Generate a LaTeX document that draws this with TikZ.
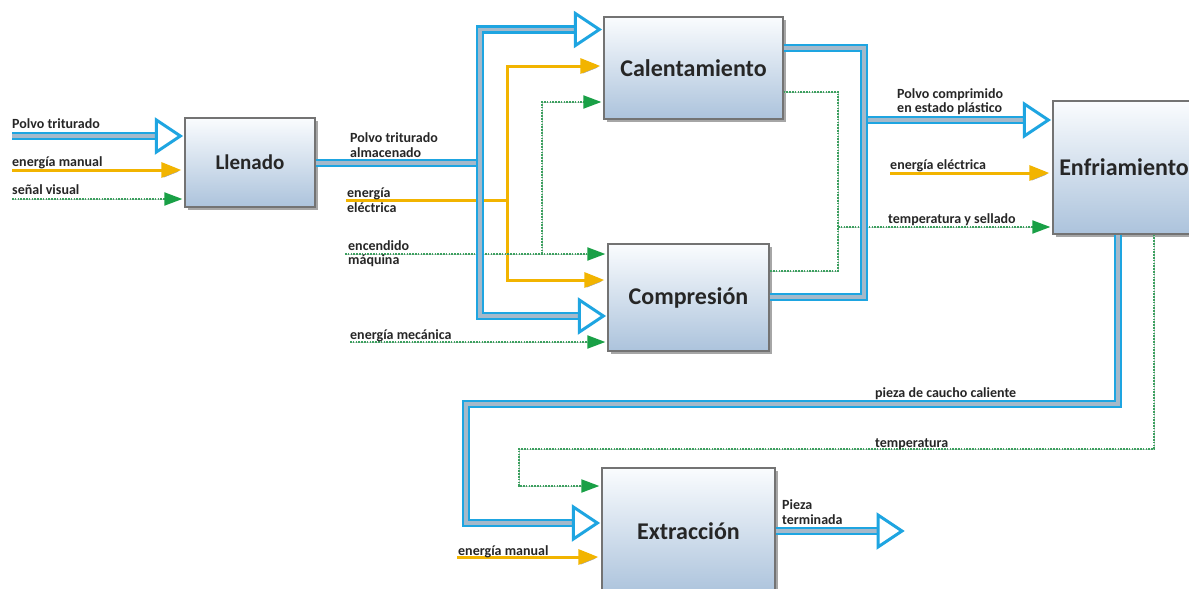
\documentclass[tikz,border=0pt]{standalone}
\usepackage{fontspec}
\setmainfont{Carlito}
\usetikzlibrary{arrows.meta,calc,shadows}
\definecolor{cblue}{RGB}{30,165,225}
\definecolor{cmid}{RGB}{165,185,202}
\definecolor{cyel}{RGB}{242,180,0}
\definecolor{cgrn}{RGB}{60,160,95}
\definecolor{cgrnbase}{RGB}{190,205,198}
\definecolor{cgrnhead}{RGB}{25,160,70}
\definecolor{boxtop}{RGB}{250,252,254}
\definecolor{boxbot}{RGB}{172,195,220}
\definecolor{boxline}{RGB}{115,115,115}
\definecolor{ink}{RGB}{38,38,38}

\begin{document}
\begin{tikzpicture}[x=1pt,y=-1pt,
  proc/.style={draw=boxline, line width=1.3pt, top color=boxtop, bottom color=boxbot,
    drop shadow={shadow xshift=3pt,shadow yshift=-3pt,fill=black,opacity=.35},
    text=ink, font=\bfseries\fontsize{24}{28}\selectfont, inner sep=0pt},
  lbl/.style={anchor=base west, inner sep=0pt, text=ink, font=\bfseries\fontsize{14}{16}\selectfont},
  pipe/.style={draw=cblue, line width=2.6pt, double=cmid, double distance=3.4pt},
  bhead/.pic={\draw[cblue, line width=3pt, fill=white, line join=miter] (0,0) -- (-24,-16) -- (-24,16) -- cycle;},
  power/.style={draw=cyel, line width=3pt, shorten >=3pt, -{Triangle[length=20pt,width=15pt]},
    preaction={draw=black!35, transform canvas={shift={(1pt,-1.5pt)}}}},
  powerline/.style={draw=cyel, line width=3pt,
    preaction={draw=black!35, transform canvas={shift={(1pt,-1.5pt)}}}},
  signal/.style={draw=cgrn, line width=2pt, dash pattern=on 1.6pt off 1.2pt, shorten >=2pt,
    preaction={draw=cgrnbase, solid},
    -{Triangle[length=18pt,width=13pt,color=cgrnhead]}},
  signalline/.style={draw=cgrn, line width=2pt, dash pattern=on 1.6pt off 1.2pt,
    preaction={draw=cgrnbase, solid}}
]
\clip (0,0) rectangle (1189,589);
\fill[white] (0,0) rectangle (1189,589);

% process boxes
\node[proc, minimum width=130pt, minimum height=89pt, font=\bfseries\fontsize{21}{25}\selectfont] (llen) at (250,162.5) {Llenado};
\node[proc, minimum width=179pt, minimum height=102pt] (cal) at (693.5,68) {Calentamiento};
\node[proc, minimum width=161pt, minimum height=107pt] (comp) at (688.5,297.5) {Compresión};
\node[proc, minimum width=142pt, minimum height=133pt] (enf) at (1124,167.5) {Enfriamiento};
\node[proc, minimum width=173pt, minimum height=126pt] (ext) at (688.5,531) {Extracción};

% free ends and junctions
\coordinate (inP) at (12,136);
\coordinate (inE) at (12,170);
\coordinate (inS) at (12,199);
\coordinate (elec) at (346,200);
\coordinate (encm) at (345,254);
\coordinate (mec) at (350,342);
\coordinate (elec2) at (890,173);
\coordinate (man2) at (457,557);
\coordinate (tout) at (902,531);
\coordinate (jA) at (480,163);
\coordinate (jB) at (864,120);
\coordinate (jY) at (507,200);
\coordinate (jG) at (542,254);
\coordinate (jT) at (838,227);

% tips of the open blue heads
\coordinate (tL) at ($(llen.west|-0,136)+(-4,0)$);
\coordinate (tC) at ($(cal.west|-0,29.5)+(-4,0)$);
\coordinate (tP) at ($(comp.west|-0,316)+(-4,0)$);
\coordinate (tE) at ($(enf.west|-0,120)+(-4,0)$);
\coordinate (tX) at ($(ext.west|-0,523)+(-4,0)$);

% ---- energy flows (yellow)
\draw[power] (inE) -- (llen.west|-inE);
\draw[powerline] (elec) -- (jY);
\draw[power] (jY) |- (cal.west|-0,66);
\draw[power] (jY) |- (comp.west|-0,280);
\draw[power] (elec2) -- (enf.west|-elec2);
\draw[power] (man2) -- (ext.west|-man2);

% ---- signal flows (green)
\draw[signal] (inS) -- (llen.west|-inS);
\draw[signal] (encm) -- (comp.west|-encm);
\draw[signal] (jG) |- (cal.west|-0,102);
\draw[signal] (mec) -- (comp.west|-mec);
\draw[signalline] (cal.east|-0,92) -| (838,271) -- (comp.east|-0,271);
\draw[signal] (jT) -- (enf.west|-jT);
\draw[signal] (1154,0|-enf.south) |- (519,449) |- (ext.west|-0,486);

% ---- material flows (blue double pipes)
\draw[pipe, shorten >=22pt] (inP) -- (tL);
\draw[pipe] (llen.east|-jA) -- (jA);
\draw[pipe, shorten >=22pt] (jA) |- (tC);
\draw[pipe, shorten >=22pt] (jA) |- (tP);
\draw[pipe, shorten >=22pt] (jB) -- (tE);
\draw[pipe] (cal.east|-0,48) -| (jB);
\draw[pipe] (comp.east|-0,297) -| (jB);
\draw[pipe, shorten >=22pt] (1118,0|-enf.south) |- (466,404) |- (tX);
\draw[pipe, shorten >=22pt] (ext.east|-tout) -- (tout);
\foreach \t in {tL,tC,tP,tE,tX,tout} \pic at (\t) {bhead};

% ---- labels
\node[lbl] at (12,128) {Polvo triturado};
\node[lbl] at (12,166) {energía manual};
\node[lbl] at (12,194) {señal visual};
\node[lbl] at (350,142) {Polvo triturado};
\node[lbl] at (350,157) {almacenado};
\node[lbl] at (347,197) {energía};
\node[lbl] at (347,212) {eléctrica};
\node[lbl] at (348,250) {encendido};
\node[lbl] at (348,264) {máquina};
\node[lbl] at (350,339) {energía mecánica};
\node[lbl] at (897,98) {Polvo comprimido};
\node[lbl] at (897,112) {en estado plástico};
\node[lbl] at (890,169) {energía eléctrica};
\node[lbl] at (888,223) {temperatura y sellado};
\node[lbl] at (875,397) {pieza de caucho caliente};
\node[lbl] at (875,447) {temperatura};
\node[lbl] at (782,509) {Pieza};
\node[lbl] at (782,524) {terminada};
\node[lbl] at (458,555) {energía manual};
\end{tikzpicture}
\end{document}
